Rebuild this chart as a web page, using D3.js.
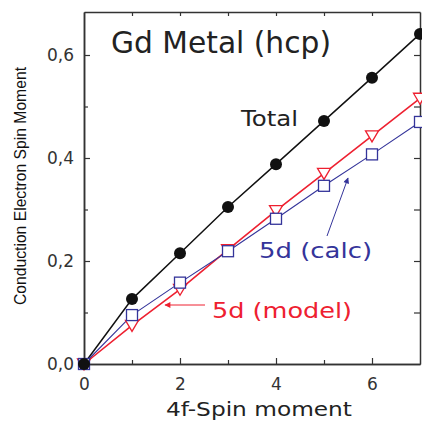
<!DOCTYPE html>
<html>
<head>
<meta charset="utf-8">
<script src="https://cdn.jsdelivr.net/npm/d3@7"></script>
<style>
  body { margin: 0; background: #fff; }
  text { font-family: "DejaVu Sans", "Noto Sans", sans-serif; }
</style>
</head>
<body>
<svg id="chart" width="422" height="423"></svg>
<script>
// spin moment data
var spin4f = [0, 1, 2, 3, 4, 5, 6, 7];
var total = [0, 0.126, 0.215, 0.305, 0.388, 0.472, 0.556, 0.641];
var calc5d = [0, 0.095, 0.158, 0.219, 0.282, 0.346, 0.407, 0.470];
var model5d = [0, 0.075, 0.145, 0.222, 0.298, 0.370, 0.443, 0.516];
var xTicks = [0, 2, 4, 6];
var yTicks = [0, 0.2, 0.4, 0.6];

var svg = d3.select("#chart");
var mLeft = 84, mRight = 420, mTop = 12, mBottom = 364;

var x = d3.scaleLinear().domain([0, 7]).range([mLeft, mRight]);
var y = d3.scaleLinear().domain([0, 0.6835]).range([mBottom, mTop]);

var frame = "#333";
var fmt = function(d) { return d3.format(".1f")(d).replace(".", ","); };

// axes, ticks pointing inward
svg.append("g").attr("transform", "translate(0," + mBottom + ")")
    .call(d3.axisBottom(x).tickValues(xTicks).tickSizeInner(-6).tickSizeOuter(0).tickPadding(14).tickFormat(d3.format("d")));
svg.append("g").attr("transform", "translate(0," + mBottom + ")")
    .call(d3.axisBottom(x).tickValues([1, 3, 5]).tickSizeInner(-4).tickSizeOuter(0).tickFormat(""));
svg.append("g").attr("transform", "translate(0," + mTop + ")")
    .call(d3.axisTop(x).tickValues([1, 2, 3, 4, 5, 6]).tickSizeInner(-4).tickSizeOuter(0).tickFormat(""));

svg.append("g").attr("transform", "translate(" + mLeft + ",0)")
    .call(d3.axisLeft(y).tickValues(yTicks).tickSizeInner(-6).tickSizeOuter(0).tickPadding(10).tickFormat(fmt));
svg.append("g").attr("transform", "translate(" + mLeft + ",0)")
    .call(d3.axisLeft(y).tickValues([0.1, 0.3, 0.5]).tickSizeInner(-4).tickSizeOuter(0).tickFormat(""));
svg.append("g").attr("transform", "translate(" + mRight + ",0)")
    .call(d3.axisRight(y).tickValues([0.1, 0.2, 0.3, 0.4, 0.5, 0.6]).tickSizeInner(-6).tickSizeOuter(0).tickFormat(""));

svg.selectAll(".domain").attr("stroke", frame).attr("stroke-width", 1.5);
svg.selectAll(".tick line").attr("stroke", frame).attr("stroke-width", 1.2);
svg.selectAll(".tick text").attr("fill", "#333").style("font-size", "17px")
    .style("font-family", "'DejaVu Sans', sans-serif");

// series
var line = function(vals) {
    return d3.line().x(function(d, i) { return x(spin4f[i]); }).y(function(d) { return y(d); })(vals);
};

var red = "#ee2030", blue = "#34349a";

svg.append("path").attr("d", line(total)).attr("fill", "none").attr("stroke", "#111").attr("stroke-width", 1.5);
svg.append("path").attr("d", line(model5d)).attr("fill", "none").attr("stroke", red).attr("stroke-width", 1.6);
svg.append("path").attr("d", line(calc5d)).attr("fill", "none").attr("stroke", blue).attr("stroke-width", 1.1);

svg.append("g").selectAll("path").data(model5d).enter().append("path")
    .attr("d", "M-6.5,-5 L6.5,-5 L0,6 Z")
    .attr("transform", function(d, i) { return "translate(" + x(spin4f[i]) + "," + y(d) + ")"; })
    .attr("fill", "#fff").attr("stroke", red).attr("stroke-width", 1.3);

svg.append("g").selectAll("rect").data(calc5d).enter().append("rect")
    .attr("x", function(d, i) { return x(spin4f[i]) - 5.5; })
    .attr("y", function(d) { return y(d) - 5.5; })
    .attr("width", 11).attr("height", 11)
    .attr("fill", "#fff").attr("stroke", blue).attr("stroke-width", 1.3);

svg.append("g").selectAll("circle").data(total).enter().append("circle")
    .attr("cx", function(d, i) { return x(spin4f[i]); })
    .attr("cy", function(d) { return y(d); })
    .attr("r", 6).attr("fill", "#111");

// labels
var label = function(tx, ty, size, len, color, str) {
    return svg.append("text").attr("x", tx).attr("y", ty).attr("fill", color)
        .attr("textLength", len).attr("lengthAdjust", "spacingAndGlyphs")
        .style("font-size", size + "px").text(str);
};
label(111, 53, 31, 220, "#222", "Gd Metal (hcp)");
label(241, 126, 21, 57, "#222", "Total");
label(259, 258, 21, 113, blue, "5d (calc)");
label(212, 318, 21, 140, red, "5d (model)");
label(166, 416, 19, 186, "#222", "4f-Spin moment");

svg.append("defs").selectAll("marker").data([["ab", blue], ["ar", red]]).enter()
    .append("marker").attr("id", function(d) { return d[0]; })
    .attr("viewBox", "0 0 10 10").attr("refX", 9).attr("refY", 5)
    .attr("markerWidth", 8).attr("markerHeight", 6).attr("markerUnits", "userSpaceOnUse")
    .attr("orient", "auto")
    .append("path").attr("d", "M0,0 L10,5 L0,10 Z").attr("fill", function(d) { return d[1]; });

svg.append("line").attr("x1", 327).attr("y1", 236).attr("x2", 348).attr("y2", 178)
    .attr("stroke", blue).attr("stroke-width", 1).attr("marker-end", "url(#ab)");
svg.append("line").attr("x1", 205).attr("y1", 305).attr("x2", 165).attr("y2", 305)
    .attr("stroke", red).attr("stroke-width", 1).attr("marker-end", "url(#ar)");

svg.append("text").attr("transform", "translate(26,186) rotate(-90)").attr("text-anchor", "middle")
    .attr("fill", "#111").attr("textLength", 238).attr("lengthAdjust", "spacingAndGlyphs")
    .style("font-family", "'Liberation Sans Narrow', 'Liberation Sans', sans-serif")
    .style("font-size", "17px").text("Conduction Electron Spin Moment");
</script>
</body>
</html>
